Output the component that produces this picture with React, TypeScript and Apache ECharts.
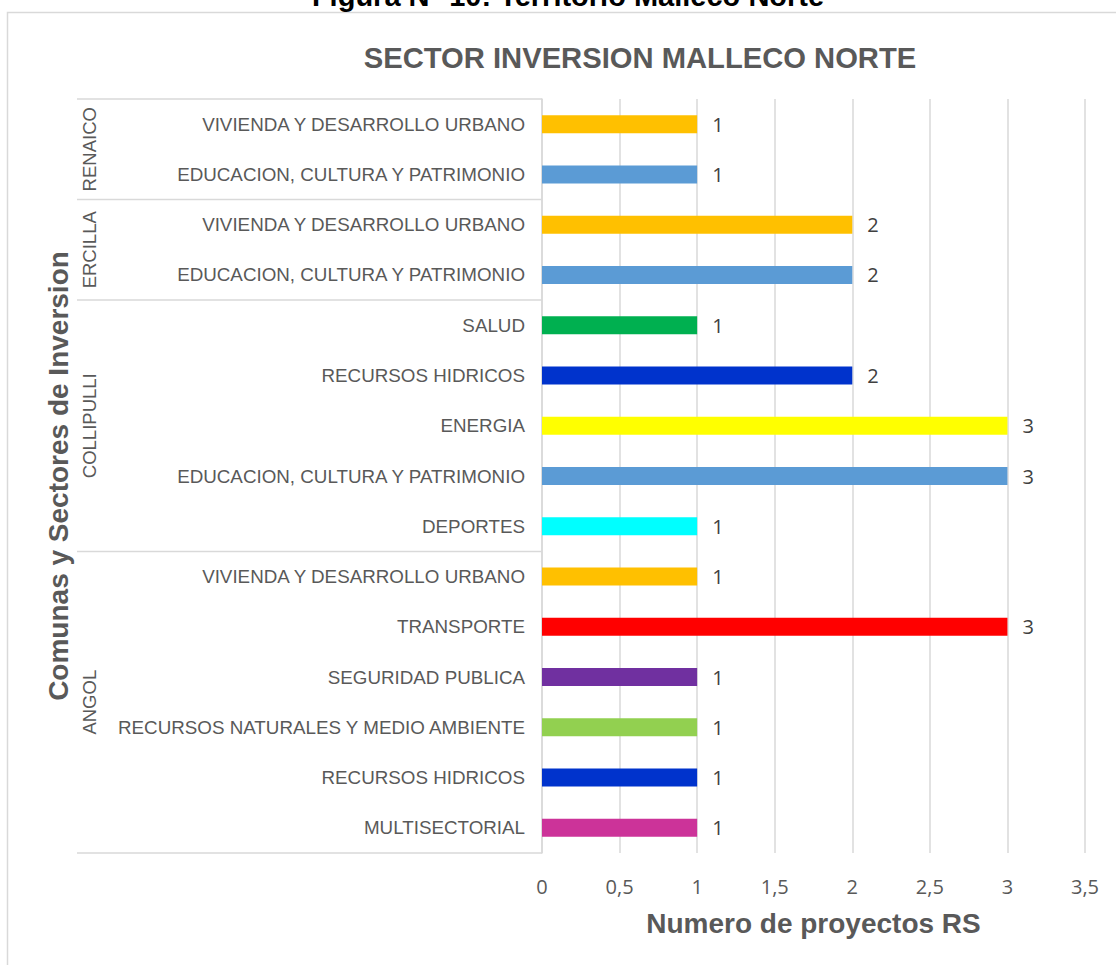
import React, { useEffect, useRef } from "react";
import * as echarts from "echarts";

// ---- data ----
const communes = ["RENAICO", "ERCILLA", "COLLIPULLI", "ANGOL"];
const communeSizes = [2, 2, 5, 6];
const sectors = [
  "VIVIENDA Y DESARROLLO URBANO",
  "EDUCACION, CULTURA Y PATRIMONIO",
  "VIVIENDA Y DESARROLLO URBANO",
  "EDUCACION, CULTURA Y PATRIMONIO",
  "SALUD",
  "RECURSOS HIDRICOS",
  "ENERGIA",
  "EDUCACION, CULTURA Y PATRIMONIO",
  "DEPORTES",
  "VIVIENDA Y DESARROLLO URBANO",
  "TRANSPORTE",
  "SEGURIDAD PUBLICA",
  "RECURSOS NATURALES Y MEDIO AMBIENTE",
  "RECURSOS HIDRICOS",
  "MULTISECTORIAL",
];
const projects = [1, 1, 2, 2, 1, 2, 3, 3, 1, 1, 3, 1, 1, 1, 1];
const xTicks = [0, 0.5, 1, 1.5, 2, 2.5, 3, 3.5];

// ---- styles ----
const sectorColors: Record<string, string> = {
  "VIVIENDA Y DESARROLLO URBANO": "#FFC000",
  "EDUCACION, CULTURA Y PATRIMONIO": "#5B9BD5",
  SALUD: "#00B050",
  "RECURSOS HIDRICOS": "#0033CC",
  ENERGIA: "#FFFF00",
  DEPORTES: "#00FFFF",
  TRANSPORTE: "#FF0000",
  "SEGURIDAD PUBLICA": "#7030A0",
  "RECURSOS NATURALES Y MEDIO AMBIENTE": "#92D050",
  MULTISECTORIAL: "#CC3399",
};
const SANS = "'Liberation Sans', Arial, sans-serif";
const NUM = "'Open Sans', 'Liberation Sans', sans-serif";
const GRAY = "#595959";
const LINE = "#d9d9d9";

export default function App() {
  const ref = useRef<HTMLDivElement>(null);
  useEffect(() => {
    if (!ref.current) return;
    const chart = echarts.init(ref.current, null, { renderer: "svg" });
    const keys = sectors.map((s, i) => `${i}|${s}`);
    chart.setOption({
      animation: false,
      title: {
        text: "SECTOR INVERSION MALLECO NORTE",
        left: 640,
        top: 43,
        padding: 0,
        textAlign: "center",
        textStyle: { fontSize: 29.2, fontWeight: "bold", color: GRAY, fontFamily: SANS },
      },
      grid: { left: 542, right: 31, top: 99, bottom: 112, containLabel: false },
      xAxis: {
        type: "value",
        min: xTicks[0],
        max: xTicks[xTicks.length - 1],
        interval: xTicks[1] - xTicks[0],
        name: "Numero de proyectos RS",
        nameLocation: "middle",
        nameGap: 56,
        nameTextStyle: { fontSize: 28, fontWeight: "bold", color: GRAY, fontFamily: SANS },
        axisLine: { show: false },
        axisTick: { show: false },
        axisLabel: {
          margin: 23,
          fontSize: 20,
          color: GRAY,
          fontFamily: NUM,
          formatter: (v: number) => String(v).replace(".", ","),
        },
        splitLine: { show: true, lineStyle: { color: LINE, width: 1.5 } },
      },
      yAxis: {
        type: "category",
        inverse: true,
        data: keys,
        axisLine: { show: true, lineStyle: { color: LINE, width: 1.5 } },
        axisTick: { show: false },
        axisLabel: {
          margin: 17,
          fontSize: 18.8,
          color: GRAY,
          fontFamily: SANS,
          formatter: (v: string) => v.split("|")[1],
        },
        splitLine: { show: false },
      },
      series: [
        {
          type: "bar",
          barWidth: 18,
          data: projects.map((v, i) => ({
            value: v,
            itemStyle: { color: sectorColors[sectors[i]] },
          })),
          label: {
            show: true,
            position: "right",
            distance: 15,
            fontSize: 20,
            color: "#404040",
            fontFamily: NUM,
          },
        },
      ],
    });

    const pix = (i: number) => chart.convertToPixel({ yAxisIndex: 0 }, keys[i]) as number;
    const band = pix(1) - pix(0);
    const x0 = chart.convertToPixel({ xAxisIndex: 0 }, 0) as number;
    const graphics: any[] = [];
    // frame
    graphics.push({
      type: "rect",
      shape: { x: 7.5, y: 12.5, width: 1200, height: 1000 },
      style: { fill: "none", stroke: LINE, lineWidth: 1.5 },
      silent: true,
    });
    graphics.push({
      type: "text",
      x: 568,
      y: -4,
      style: {
        text: "Figura N° 10: Territorio Malleco Norte",
        fontSize: 29,
        fontWeight: "bold",
        fontFamily: SANS,
        fill: "#000",
        align: "center",
        verticalAlign: "middle",
      },
    });
    let start = 0;
    const topY = pix(0) - band / 2;
    graphics.push({
      type: "line",
      shape: { x1: 77, y1: topY, x2: x0, y2: topY },
      style: { stroke: LINE, lineWidth: 1.5 },
    });
    communes.forEach((c, gi) => {
      const end = start + communeSizes[gi] - 1;
      const yTop = pix(start) - band / 2;
      const yBot = pix(end) + band / 2;
      graphics.push({
        type: "line",
        shape: { x1: 77, y1: yBot, x2: x0, y2: yBot },
        style: { stroke: LINE, lineWidth: 1.5 },
      });
      graphics.push({
        type: "text",
        x: 89,
        y: (yTop + yBot) / 2,
        rotation: Math.PI / 2,
        style: {
          text: c,
          fontSize: 18.5,
          fontFamily: SANS,
          fill: GRAY,
          align: "center",
          verticalAlign: "middle",
        },
      });
      start = end + 1;
    });
    const gridMid = (pix(0) - band / 2 + pix(keys.length - 1) + band / 2) / 2;
    graphics.push({
      type: "text",
      x: 58,
      y: gridMid,
      rotation: Math.PI / 2,
      style: {
        text: "Comunas y Sectores de Inversion",
        fontSize: 28,
        fontWeight: "bold",
        fontFamily: SANS,
        fill: GRAY,
        align: "center",
        verticalAlign: "middle",
      },
    });
    chart.setOption({ graphic: graphics });
    return () => chart.dispose();
  }, []);
  return (
    <div
      ref={ref}
      style={{ position: "fixed", left: 0, top: 0, width: 1116, height: 965, background: "#fff" }}
    />
  );
}
